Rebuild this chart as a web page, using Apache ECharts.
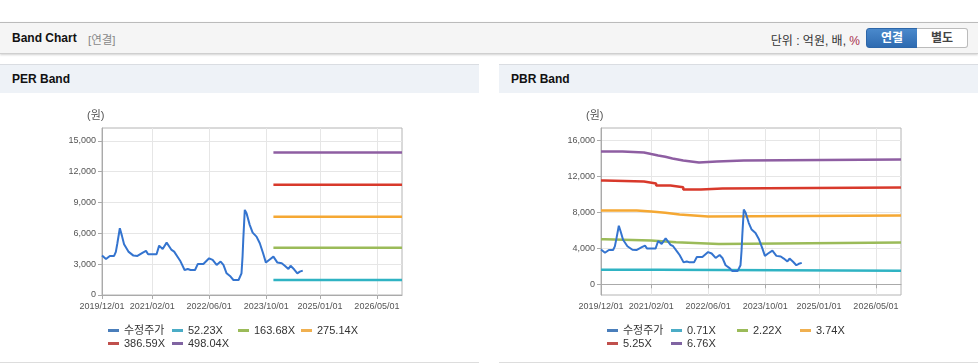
<!DOCTYPE html>
<html><head><meta charset="utf-8">
<script src="https://cdn.jsdelivr.net/npm/echarts@6/dist/echarts.min.js"></script>
<style>
body{margin:0;width:978px;height:364px;overflow:hidden;background:#fff;position:relative;font-family:"Liberation Sans","Noto Sans CJK KR",sans-serif;}
#bar{position:absolute;left:0;top:22px;width:978px;height:30px;background:#f5f5f5;border-top:1px solid #bbb;border-bottom:1px solid #cfcfcf;box-shadow:0 1px 2px rgba(0,0,0,.18);}
#bar .t{position:absolute;left:12px;top:8px;font-size:12px;font-weight:bold;color:#111;}
#bar .s{position:absolute;left:88px;top:8px;font-size:11.5px;color:#888;}
#bar .u{position:absolute;right:118px;top:8px;font-size:12px;color:#333;}
#bar .u b{font-weight:normal;color:#a8304a;}
.btn{position:absolute;top:5px;height:18px;width:50px;font-size:12px;font-weight:bold;text-align:center;line-height:18px;box-sizing:content-box;}
#b1{left:866px;background:linear-gradient(#4a89cc,#2e6bb1);color:#fff;border:1px solid #2d66a8;border-radius:3px 0 0 3px;}
#b2{left:917px;background:#fff;color:#444;border:1px solid #bbb;border-left:none;border-radius:0 3px 3px 0;}
.ph{position:absolute;top:64px;width:479px;height:28px;background:#eef2f7;border-top:1px solid #dadde2;}
.ph span{position:absolute;left:12px;top:7px;font-size:12px;font-weight:bold;color:#111;}
.chart{position:absolute;top:93px;width:479px;height:269px;border-bottom:1px solid #ddd;}
</style></head>
<body>
<div id="bar"><span class="t">Band Chart</span><span class="s">[연결]</span><span class="u">단위 : 억원, 배, <b>%</b></span>
<div class="btn" id="b1">연결</div><div class="btn" id="b2">별도</div></div>
<div class="ph" style="left:0"><span>PER Band</span></div>
<div class="ph" style="left:499px"><span>PBR Band</span></div>
<div class="chart" id="per" style="left:0"></div>
<div class="chart" id="pbr" style="left:499px"></div>
<script>
// ---------- data ----------
const xTickDates = ['2019-12-01','2021-02-01','2022-06-01','2023-10-01','2025-01-01','2026-05-01'];
const xMin = '2019-12-01';
const xMax = '2026-12-01';
const perYTicks = [0,3000,6000,9000,12000,15000];
const pbrYTicks = [0,4000,8000,12000,16000];

const priceName = '수정주가';
const priceDates = ['2019-12-01','2020-01-04','2020-02-06','2020-03-13','2020-03-28','2020-04-10','2020-05-01','2020-05-19','2020-06-06','2020-07-13','2020-08-25','2020-09-28','2020-11-13','2020-12-10','2020-12-28','2021-03-10','2021-04-01','2021-05-01','2021-06-04','2021-07-16','2021-08-07','2021-09-13','2021-10-01','2021-11-04','2021-12-01','2021-12-25','2022-02-01','2022-02-25','2022-04-13','2022-06-01','2022-07-01','2022-08-04','2022-09-07','2022-10-01','2022-10-28','2022-12-01','2022-12-25','2023-02-07','2023-03-04','2023-03-13','2023-03-19','2023-04-01','2023-04-16','2023-05-13','2023-06-07','2023-07-10','2023-08-07','2023-09-04','2023-09-28','2023-10-25','2023-12-01','2024-01-04','2024-02-10','2024-03-07','2024-04-07','2024-04-25','2024-05-25','2024-06-22','2024-07-13','2024-08-07'];
const priceValues = [3850,3500,3800,3800,4200,5030,6490,5750,4940,4220,3830,3800,4120,4290,3960,3960,4800,4480,5090,4380,4220,3570,3250,2430,2530,2430,2430,3020,3020,3570,3410,2920,3250,2920,2110,1790,1460,1460,2110,3730,5360,8280,7960,6820,6070,5680,5030,4060,3150,3410,3730,3150,3080,2850,2530,2850,2500,2110,2270,2370];

const perBandNames = ['52.23X','163.68X','275.14X','386.59X','498.04X'];
const perBandDates = ['2023-12-01','2026-12-01'];
const perBand1 = [1460,1460];
const perBand2 = [4600,4600];
const perBand3 = [7600,7600];
const perBand4 = [10720,10720];
const perBand5 = [13860,13860];

const pbrBandNames = ['0.71X','2.22X','3.74X','5.25X','6.76X'];
const pbrBand1Dates = ['2019-12-01','2021-04-01','2026-12-01'];
const pbrBand1 = [1620,1510,1510];
const pbrBand2Dates = ['2019-12-01','2020-01-01','2021-02-01','2021-09-01','2022-09-01','2026-12-01'];
const pbrBand2 = [5000,4850,4670,4480,4620,4620];
const pbrBand3Dates = ['2019-12-01','2020-10-01','2021-02-01','2021-06-01','2021-10-01','2022-06-01','2026-12-01'];
const pbrBand3 = [8180,8070,7920,7730,7510,7620,7620];
const pbrBand4Dates = ['2019-12-01','2020-01-01','2020-12-01','2021-03-15','2021-07-15','2021-11-01','2022-04-01','2022-10-01','2026-12-01'];
const pbrBand4 = [11510,11400,11180,10950,10770,10510,10620,10730,10730];
const pbrBand5Dates = ['2019-12-01','2020-06-01','2020-12-01','2021-02-01','2021-04-01','2021-06-01','2021-08-01','2021-11-01','2022-03-15','2022-08-15','2023-04-01','2026-12-01'];
const pbrBand5 = [14730,14620,14450,14290,14150,13950,13730,13510,13620,13730,13840,13840];

// ---------- styles ----------
const lineColors = ['#3474cf','#2fb3c3','#9bbb59','#f5a833','#d8392b','#8e5ea2'];
const legendColors = ['#4a7ebb','#4bacc6','#9bbb59','#f0b050','#c0504d','#8064a2'];
const FONT = '"Liberation Sans","Noto Sans CJK KR",sans-serif';

function ts(s){ return new Date(s + 'T00:00:00').getTime(); }
function zip(d, v){ return d.map((x,i)=>[ts(x), v[i]]); }
function fmtDate(v){ const d=new Date(v); const p=n=>(n<10?'0':'')+n; return d.getFullYear()+'/'+p(d.getMonth()+1)+'/'+p(d.getDate()); }

function build(yMin, yMax, yTicks, bandNames, bandSeries, stepBands){
  const names = [priceName].concat(bandNames);
  const legPos = [[108,232],[172,232],[238,232],[301,232],[108,245],[172,245]];
  const legends = names.map((n,i)=>({
    left: legPos[i][0], top: legPos[i][1], padding: 0, icon: 'rect', itemWidth: 11, itemHeight: 3,
    textStyle: {fontSize: 11, color: '#333', fontFamily: FONT},
    data: [{name: n, itemStyle: {color: legendColors[i]}}]
  }));
  const series = bandSeries.map((data,i)=>({
    name: bandNames[i], type: 'line', data: data, showSymbol: false, step: stepBands ? 'end' : false,
    lineStyle: {width: 2.5, color: lineColors[i+1]}, itemStyle: {color: lineColors[i+1]}, z: 2
  }));
  series.push({
    name: priceName, type: 'line', data: zip(priceDates, priceValues), showSymbol: false,
    lineStyle: {width: 2, color: lineColors[0]}, itemStyle: {color: lineColors[0]}, z: 3
  });
  const xt = xTickDates.map(ts);
  return {
    animation: false,
    textStyle: {fontFamily: FONT},
    grid: {left: 102, top: 35, width: 300, height: 167, show: true, borderColor: '#b4b4b4', borderWidth: 1},
    graphic: [{type: 'text', left: 87, top: 17, style: {text: '(원)', fontSize: 11, fill: '#555', fontFamily: FONT}}],
    legend: legends,
    xAxis: {
      type: 'value', min: ts(xMin), max: ts(xMax),
      axisLine: {lineStyle: {color: '#aaa'}},
      axisTick: {show: true, length: 4, lineStyle: {color: '#aaa'}, customValues: xt},
      axisLabel: {customValues: xt, formatter: fmtDate, fontSize: 9, color: '#555', margin: 7, fontFamily: FONT},
      splitLine: {show: true, lineStyle: {color: '#e6e6e6'}}
    },
    yAxis: {
      type: 'value', min: yMin, max: yMax,
      axisLine: {show: true, lineStyle: {color: '#aaa'}},
      axisTick: {show: true, length: 4, lineStyle: {color: '#aaa'}, customValues: yTicks},
      axisLabel: {customValues: yTicks, formatter: v => v.toLocaleString('en-US'), fontSize: 9, color: '#555', margin: 6, fontFamily: FONT},
      splitLine: {show: true, lineStyle: {color: '#e6e6e6'}}
    },
    series: series
  };
}

const perChart = echarts.init(document.getElementById('per'), null, {renderer: 'canvas'});
perChart.setOption(build(0, 16240, perYTicks, perBandNames,
  [zip(perBandDates, perBand1), zip(perBandDates, perBand2), zip(perBandDates, perBand3), zip(perBandDates, perBand4), zip(perBandDates, perBand5)], false));

const pbrChart = echarts.init(document.getElementById('pbr'), null, {renderer: 'canvas'});
pbrChart.setOption(build(-1190, 17333, pbrYTicks, pbrBandNames,
  [zip(pbrBand1Dates, pbrBand1), zip(pbrBand2Dates, pbrBand2), zip(pbrBand3Dates, pbrBand3), zip(pbrBand4Dates, pbrBand4), zip(pbrBand5Dates, pbrBand5)], true));
</script>
</body></html>
